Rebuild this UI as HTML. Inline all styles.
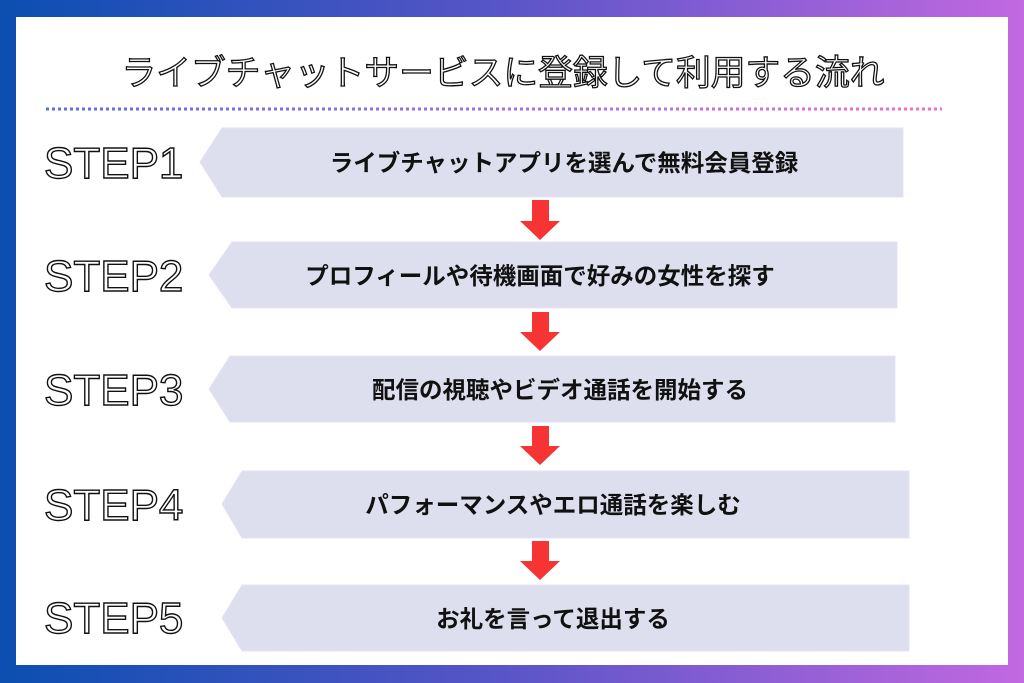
<!DOCTYPE html>
<html><head><meta charset="utf-8"><style>
html,body{margin:0;padding:0;}
body{width:1024px;height:683px;overflow:hidden;background:linear-gradient(90deg,#0b4fb0 0%,#5a55c8 50%,#c268e0 100%);position:relative;font-family:"Liberation Sans","Noto Sans CJK JP",sans-serif;}
.panel{position:absolute;left:16px;top:17px;width:992px;height:648px;background:#fff;}
svg{position:absolute;left:0;top:0;}
</style></head><body>
<div class="panel"></div>
<svg width="1024" height="683" viewBox="0 0 1024 683">
<defs>
<linearGradient id="dl" gradientUnits="userSpaceOnUse" x1="46" y1="0" x2="942" y2="0"><stop offset="0" stop-color="#5a6cf0"/><stop offset="0.5" stop-color="#a070e8"/><stop offset="1" stop-color="#f070d0"/></linearGradient>
</defs>
<line x1="46" y1="109" x2="942" y2="109" stroke="url(#dl)" stroke-width="3" stroke-dasharray="3,3"/>
<text x="503" y="85" text-anchor="middle" font-family="'Liberation Sans','Noto Sans CJK JP',sans-serif" font-size="35" fill="#fff" stroke="#111" stroke-width="1.3" textLength="763" lengthAdjust="spacingAndGlyphs">ライブチャットサービスに登録して利用する流れ</text>
<g fill="#dedfee" stroke="#e6e2f4" stroke-width="1">
<polygon points="222,128 903,128 903,197 222,197 200,162"/>
<polygon points="232,242 897,242 897,308 232,308 209,275"/>
<polygon points="230,356 895,356 895,422 230,422 209,389"/>
<polygon points="242,471 909,471 909,538 242,538 222,504"/>
<polygon points="242,585 909,585 909,651 242,651 222,618"/>
</g>
<g font-family="'Liberation Sans','Noto Sans CJK JP',sans-serif" font-size="44" fill="#fff" stroke="#111" stroke-width="1.4">
<text x="44" y="178">STEP1</text>
<text x="44" y="291">STEP2</text>
<text x="44" y="405">STEP3</text>
<text x="44" y="520">STEP4</text>
<text x="44" y="633">STEP5</text>
</g>
<g font-family="'Liberation Sans','Noto Sans CJK JP',sans-serif" font-size="23.5" font-weight="bold" fill="#111" text-anchor="middle">
<text x="564" y="171">ライブチャットアプリを選んで無料会員登録</text>
<text x="540" y="284">プロフィールや待機画面で好みの女性を探す</text>
<text x="560" y="398">配信の視聴やビデオ通話を開始する</text>
<text x="553" y="513">パフォーマンスやエロ通話を楽しむ</text>
<text x="553" y="627">お礼を言って退出する</text>
</g>
<g fill="#f63434">
<polygon points="532,200 549,200 549,221 560,221 540,240 520,221 532,221"/>
<polygon points="532,312 549,312 549,332 560,332 540,351 520,332 532,332"/>
<polygon points="532,426 549,426 549,446 560,446 540,465 520,446 532,446"/>
<polygon points="532,541 549,541 549,561 560,561 540,580 520,561 532,561"/>
</g>
</svg>
</body></html>
